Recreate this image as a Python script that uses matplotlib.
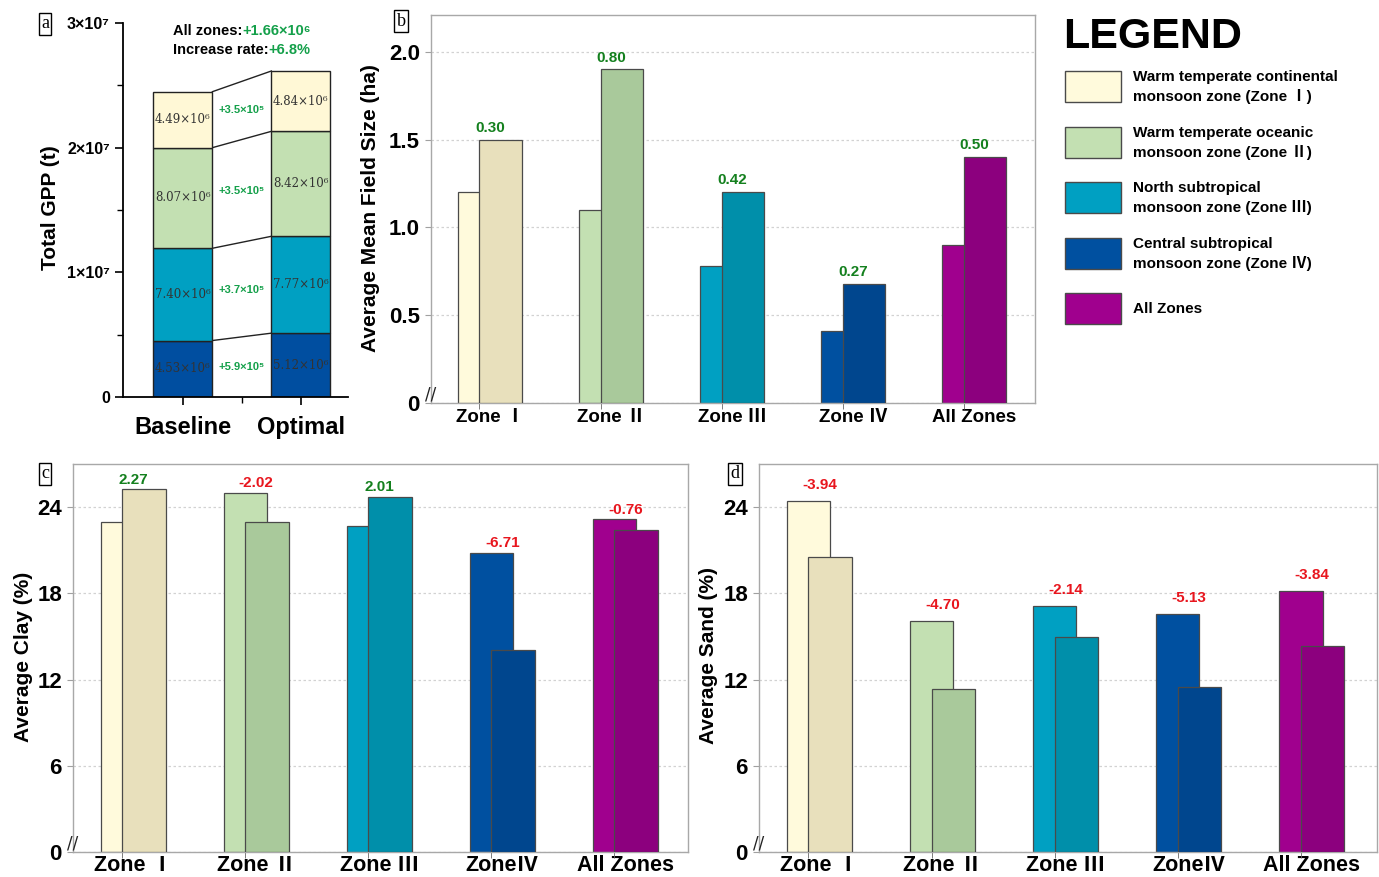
import matplotlib
matplotlib.use("Agg")
import matplotlib.pyplot as plt
from matplotlib.patches import Rectangle

plt.rcParams['font.family'] = ['Liberation Sans', 'Noto Sans CJK SC', 'DejaVu Sans']
plt.rcParams['font.weight'] = 'bold'

# ---------------- data ----------------
zone_names = ['Zone Ⅰ', 'Zone Ⅱ', 'Zone Ⅲ', 'Zone Ⅳ']
# total GPP per zone (t), Zone I..IV
gpp_baseline = [4.49e6, 8.07e6, 7.40e6, 4.53e6]
gpp_optimal = [4.84e6, 8.42e6, 7.77e6, 5.12e6]
gpp_ticks = [0, 1e7, 2e7, 3e7]
gpp_tick_labels = ['0', '1×10⁷', '2×10⁷', '3×10⁷']
scenario_labels = ['Baseline', 'Optimal']

group_labels_b = ['Zone Ⅰ', 'Zone Ⅱ', 'Zone Ⅲ', 'Zone Ⅳ', 'All Zones']
group_labels_cd = ['Zone Ⅰ', 'Zone Ⅱ', 'Zone Ⅲ', 'ZoneⅣ', 'All Zones']

field_baseline = [1.20, 1.10, 0.78, 0.41, 0.90]
field_optimal = [1.50, 1.90, 1.20, 0.68, 1.40]
field_ticks = [0, 0.5, 1.0, 1.5, 2.0]
field_tick_labels = ['0', '0.5', '1.0', '1.5', '2.0']

clay_baseline = [22.96, 24.98, 22.70, 20.80, 23.14]
clay_optimal = [25.23, 22.96, 24.71, 14.09, 22.38]

sand_baseline = [24.44, 16.05, 17.12, 16.59, 18.15]
sand_optimal = [20.50, 11.35, 14.98, 11.46, 14.31]
pct_ticks = [0, 6, 12, 18, 24]

legend_labels = ['Warm temperate continental\nmonsoon zone (Zone Ⅰ)',
                 'Warm temperate oceanic\nmonsoon zone (Zone Ⅱ)',
                 'North subtropical\nmonsoon zone (Zone Ⅲ)',
                 'Central subtropical\nmonsoon zone (Zone Ⅳ)',
                 'All Zones']

# ---------------- styling ----------------
base_colors = ['#FFFADC', '#C3E0B2', '#00A0C2', '#0050A0', '#A0008E']
opt_colors = ['#E8E0BC', '#A9C99B', '#008FAA', '#00468E', '#8C007E']
gpp_colors = ['#FFF8D6', '#C3E0B2', '#00A0C2', '#004EA0']
green_a = '#14A04A'
green = '#14801E'
red = '#E8161E'

W, H = 1379, 877
fig = plt.figure(figsize=(W / 100, H / 100), dpi=100)


def rect(l, t, r, b):
    return [l / W, 1 - b / H, (r - l) / W, (b - t) / H]


def fx(x):
    return x / W


def fy(y):
    return 1 - y / H


# ---------------- panel a: stacked GPP ----------------
ax_a = fig.add_axes(rect(123, 23, 348, 397))
bar_w = 0.5
order = [3, 2, 1, 0]  # stacked from Zone IV at the bottom to Zone I on top
cum_b, cum_o = 0.0, 0.0
for i in order:
    vb, vo = gpp_baseline[i], gpp_optimal[i]
    ax_a.bar(0, vb, bar_w, bottom=cum_b, color=gpp_colors[i], edgecolor='#222222', lw=1.0, zorder=2)
    ax_a.bar(1, vo, bar_w, bottom=cum_o, color=gpp_colors[i], edgecolor='#222222', lw=1.0, zorder=2)
    mb, mo = cum_b + vb / 2, cum_o + vo / 2
    ax_a.text(0, mb, f'{vb / 1e6:.2f}×10⁶', ha='center', va='center', fontsize=8.5,
              family=['DejaVu Serif'], fontweight='normal', color='#333333', zorder=3)
    ax_a.text(1, mo, f'{vo / 1e6:.2f}×10⁶', ha='center', va='center', fontsize=8.5,
              family=['DejaVu Serif'], fontweight='normal', color='#333333', zorder=3)
    d = (vo - vb) / 1e5
    ax_a.text(0.5, (mb + mo) / 2, f'+{d:.1f}×10⁵', ha='center', va='center', fontsize=8,
              color=green_a, fontweight='bold', zorder=3)
    cum_b += vb
    cum_o += vo
    ax_a.plot([bar_w / 2, 1 - bar_w / 2], [cum_b, cum_o], color='#222222', lw=1.0, zorder=1)

total_gain = sum(gpp_optimal) - sum(gpp_baseline)
rate = total_gain / sum(gpp_baseline) * 100
t1 = ax_a.text(0.222, 0.978, 'All zones:', transform=ax_a.transAxes, ha='left', va='center',
               fontsize=10.5, fontweight='bold', color='black')
ax_a.annotate(f'+{total_gain / 1e6:.2f}×10⁶', xy=(1, 0), xycoords=t1, ha='left', va='bottom',
              fontsize=10.5, fontweight='bold', color=green_a)
t2 = ax_a.text(0.222, 0.927, 'Increase rate:', transform=ax_a.transAxes, ha='left', va='center',
               fontsize=10.5, fontweight='bold', color='black')
ax_a.annotate(f'+{rate:.1f}%', xy=(1, 0), xycoords=t2, ha='left', va='bottom',
              fontsize=10.5, fontweight='bold', color=green_a)

ax_a.set_xlim(-0.508, 1.4)
ax_a.set_ylim(0, 3e7)
ax_a.spines['top'].set_visible(False)
ax_a.spines['right'].set_visible(False)
for s in ('left', 'bottom'):
    ax_a.spines[s].set_linewidth(1.3)
ax_a.set_xticks([0, 1])
ax_a.set_xticklabels(scenario_labels, fontsize=17, fontweight='bold')
ax_a.set_xticks([0.5], minor=True)
ax_a.set_yticks(gpp_ticks)
ax_a.set_yticklabels(gpp_tick_labels, fontsize=11.5, fontweight='bold')
ax_a.set_yticks([5e6, 1.5e7, 2.5e7], minor=True)
ax_a.tick_params(axis='both', which='major', length=6, width=1.2, direction='out')
ax_a.tick_params(axis='both', which='minor', length=4, width=1.0, direction='out')
ax_a.tick_params(axis='x', pad=8)
fig.text(fx(50), fy(208), 'Total GPP (t)', rotation=90, ha='center', va='center',
         fontsize=15, fontweight='bold')


# ---------------- panels b, c, d: paired bars ----------------
def paired_bars(ax, base, opt, labels, ylim, xlim, ticks, tick_labels,
                xfs, yfs, label_pad, xpad):
    n = len(base)
    w = 0.352
    off = w / 4
    xs = list(range(n))
    for i in xs:
        ax.bar(i - off, base[i], w, color=base_colors[i], edgecolor='#4A4A4A', lw=0.9, zorder=2)
        ax.bar(i + off, opt[i], w, color=opt_colors[i], edgecolor='#4A4A4A', lw=0.9, zorder=3)
        d = opt[i] - base[i]
        ax.annotate(f'{d:.2f}', xy=(i, max(base[i], opt[i])), xytext=(0, label_pad),
                    textcoords='offset points', ha='center', va='bottom', fontsize=11,
                    fontweight='bold', color=green if d > 0 else red, zorder=4)
    ax.set_xlim(*xlim)
    ax.set_ylim(*ylim)
    ax.set_xticks(xs)
    ax.set_xticklabels(labels, fontsize=xfs, fontweight='bold')
    ax.set_xticks([i - off for i in xs], minor=True)
    ax.tick_params(axis='x', which='major', length=0, pad=xpad)
    ax.tick_params(axis='x', which='minor', length=4, color='#666666')
    ax.set_yticks(ticks)
    ax.set_yticklabels(tick_labels, fontsize=yfs, fontweight='bold')
    ax.tick_params(axis='y', length=4, color='#A0A0A0', pad=4)
    for s in ax.spines.values():
        s.set_color('#A8A8A8')
        s.set_linewidth(1.0)
    ax.yaxis.grid(True, linestyle=(0, (2, 2)), color='#D2D2D2', lw=0.9)
    ax.set_axisbelow(True)
    # axis break mark at the origin
    ax.annotate('//', xy=(0, 0), xycoords='axes fraction', xytext=(0, 0),
                textcoords='offset points', ha='center', va='bottom', fontsize=12,
                family=['DejaVu Sans'], fontweight='normal', color='#222222',
                annotation_clip=False)


ax_b = fig.add_axes(rect(431, 15, 1035, 403))
paired_bars(ax_b, field_baseline, field_optimal, group_labels_b, (0, 2.21), (-0.488, 4.50),
            field_ticks, field_tick_labels, 13.5, 16, 3.5, 4)
fig.text(fx(370), fy(208), 'Average Mean Field Size (ha)', rotation=90, ha='center',
         va='center', fontsize=15, fontweight='bold')

ax_c = fig.add_axes(rect(73, 464, 688, 852))
paired_bars(ax_c, clay_baseline, clay_optimal, group_labels_cd, (0, 27.0), (-0.488, 4.51),
            pct_ticks, [str(t) for t in pct_ticks], 15.5, 16, 2, 2)
fig.text(fx(24), fy(657), 'Average Clay (%)', rotation=90, ha='center', va='center',
         fontsize=15, fontweight='bold')

ax_d = fig.add_axes(rect(759, 464, 1377, 852))
paired_bars(ax_d, sand_baseline, sand_optimal, group_labels_cd, (0, 27.0), (-0.49, 4.53),
            pct_ticks, [str(t) for t in pct_ticks], 15.5, 16, 6.5, 2)
fig.text(fx(708), fy(656), 'Average Sand (%)', rotation=90, ha='center', va='center',
         fontsize=15, fontweight='bold')

# ---------------- panel tags ----------------
for tag, (px, py) in zip('abcd', [(45, 24), (401, 21), (45, 474), (735, 474)]):
    fig.text(fx(px), fy(py), tag, ha='center', va='center', fontsize=13,
             family=['Liberation Serif'], fontweight='normal',
             bbox=dict(boxstyle='square,pad=0.12', fc='white', ec='black', lw=1.0))

# ---------------- legend ----------------
fig.text(fx(1063), fy(37), 'LEGEND', ha='left', va='center', fontsize=31, fontweight='bold')
patch_tops = [71, 127, 182, 238, 293]
for color, top, label in zip(base_colors, patch_tops, legend_labels):
    fig.patches.append(Rectangle((fx(1065), fy(top + 31)), 56 / W, 31 / H,
                                 transform=fig.transFigure, facecolor=color,
                                 edgecolor='#4A4A4A', lw=1.0))
    fig.text(fx(1133), fy(top + 16), label, ha='left', va='center', fontsize=11,
             fontweight='bold', linespacing=1.35)

fig.savefig('out.png', dpi=100, facecolor='white')
